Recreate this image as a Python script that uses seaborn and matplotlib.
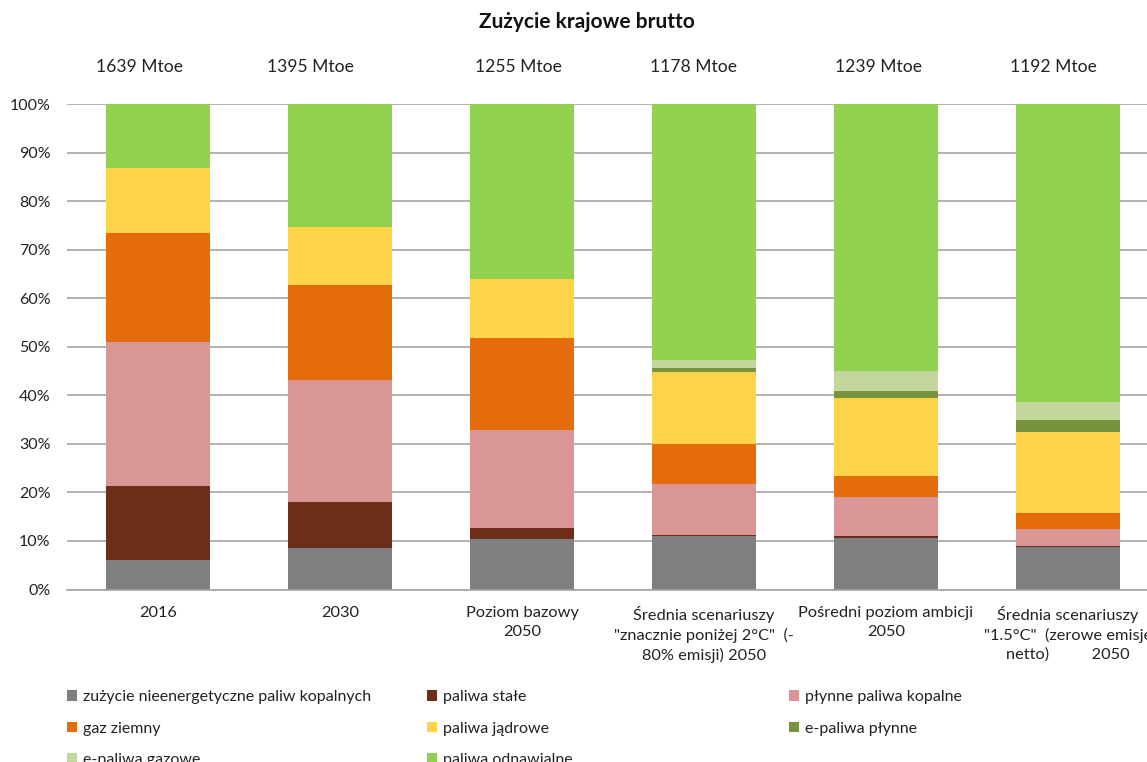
import numpy as np
import pandas as pd
import matplotlib
matplotlib.use('Agg')
import matplotlib.pyplot as plt
import matplotlib.transforms as mtransforms
from matplotlib.patches import Patch
import seaborn as sns

# Dane (udziały w %)
scenarios = ['2016', '2030', 'Poziom bazowy\n2050',
             'Średnia scenariuszy\n"znacznie poniżej 2°C"  (-\n80% emisji) 2050',
             'Pośredni poziom ambicji\n2050',
             'Średnia scenariuszy\n"1.5°C"  (zerowe emisje\nnetto)          2050']
totals = ['1639 Mtoe', '1395 Mtoe', '1255 Mtoe', '1178 Mtoe', '1239 Mtoe', '1192 Mtoe']

fuels = ['zużycie nieenergetyczne paliw kopalnych', 'paliwa stałe', 'płynne paliwa kopalne',
         'gaz ziemny', 'paliwa jądrowe', 'e-paliwa płynne', 'e-paliwa gazowe', 'paliwa odnawialne']

non_energy = [6.0, 8.65, 10.5, 11.1, 10.6, 8.85]
solid = [15.3, 9.35, 2.1, 0.15, 0.4, 0.05]
liquid_fossil = [29.7, 25.1, 20.2, 10.45, 8.1, 3.6]
natural_gas = [22.5, 19.6, 19.0, 8.2, 4.3, 3.2]
nuclear = [13.3, 12.0, 12.2, 14.9, 16.0, 16.8]
e_liquid = [0.0, 0.0, 0.0, 0.8, 1.5, 2.4]
e_gas = [0.0, 0.0, 0.0, 1.7, 4.1, 3.7]
renewables = [13.2, 25.3, 36.0, 52.7, 55.0, 61.4]

colors = ['#7F7F7F', '#6E2D19', '#D99694', '#E46C0A', '#FDD34A', '#77933C', '#C3D69B', '#92D050']

df = pd.DataFrame({'scenario': scenarios,
                   fuels[0]: non_energy, fuels[1]: solid, fuels[2]: liquid_fossil,
                   fuels[3]: natural_gas, fuels[4]: nuclear, fuels[5]: e_liquid,
                   fuels[6]: e_gas, fuels[7]: renewables})
shares = df[fuels].div(df[fuels].sum(axis=1), axis=0)
cum = shares.cumsum(axis=1)

sns.set_theme(style='white')
plt.rcParams['font.family'] = ['Lato', 'DejaVu Sans']

W, H = 1147, 762
fig = plt.figure(figsize=(W / 100, H / 100), dpi=100)
ax = fig.add_axes([67 / W, (H - 589.5) / H, 1092 / W, 485.5 / H])

# stos: rysujemy od najwyższej skumulowanej wartości w dół
for i in range(len(fuels) - 1, -1, -1):
    sns.barplot(x=df['scenario'], y=cum[fuels[i]], color=colors[i], saturation=1,
                width=0.566, ax=ax, order=scenarios, linewidth=0)

ax.set_xlim(-0.5, 5.5)
ax.set_ylim(0, 1)
ax.set_yticks(np.arange(0, 1.01, 0.1))
ax.set_yticklabels([f'{v}%' for v in range(0, 101, 10)], fontsize=11.5, color='#222222')
ax.set_xlabel('')
ax.set_ylabel('')
ax.yaxis.grid(True, color='#A6A6A6', linewidth=1.2)
ax.set_axisbelow(True)
for s in ['top', 'right', 'left']:
    ax.spines[s].set_visible(False)
ax.spines['bottom'].set_color('#A6A6A6')
ax.spines['bottom'].set_linewidth(1.2)
ax.tick_params(axis='y', length=0, pad=12)
ax.tick_params(axis='x', length=0, pad=12)
for lab in ax.get_xticklabels():
    lab.set_fontsize(11.8)
    lab.set_color('#222222')
    lab.set_linespacing(1.4)

# sumy nad słupkami
trans = mtransforms.blended_transform_factory(ax.transData, fig.transFigure)
label_shift = [-0.10, -0.16, -0.02, -0.06, -0.04, -0.08]
for i, t in enumerate(totals):
    ax.text(i + label_shift[i], 1 - 66.5 / H, t, transform=trans, ha='center', va='center',
            fontsize=12.6, color='#222222')

fig.text(587 / W, 1 - 22 / H, 'Zużycie krajowe brutto', ha='center', va='center',
         fontsize=15, fontweight='bold', color='#111111')

# legenda w trzech kolumnach
handles = [Patch(facecolor=c, edgecolor='none') for c in colors]
columns = [([0, 3, 6], 67), ([1, 4, 7], 427), ([2, 5], 789)]
for idx, x in columns:
    fig.legend([handles[k] for k in idx], [fuels[k] for k in idx], loc='upper left',
               bbox_to_anchor=(x / W, 1 - 690 / H), frameon=False, fontsize=11.5,
               handlelength=0.65, handleheight=0.65, handletextpad=0.35,
               borderpad=0, borderaxespad=0, labelspacing=1.1, labelcolor='#222222')

fig.savefig('out.png', dpi=100)
